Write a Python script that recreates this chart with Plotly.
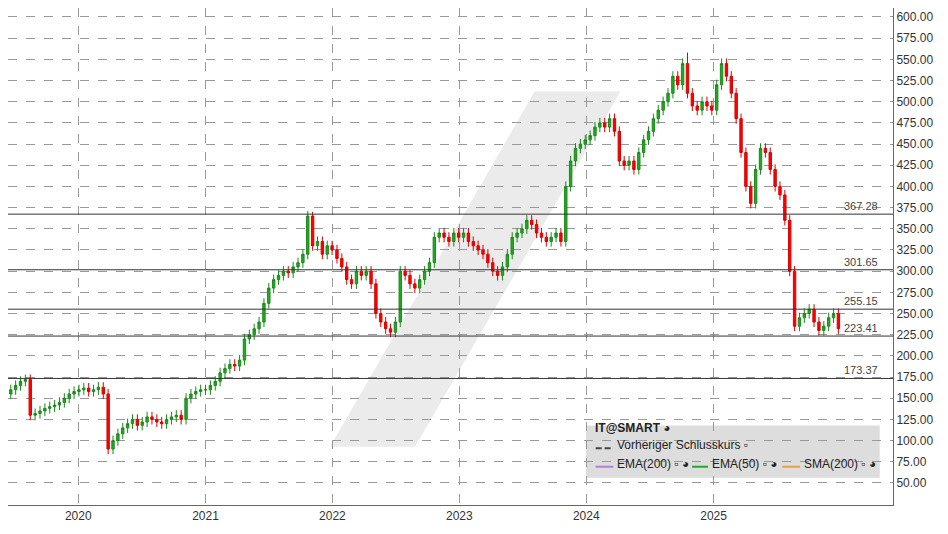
import plotly.graph_objects as go
import pandas as pd

close_2019 = [150,155,160,165,170,172,130,132,135,138,140,142,145,150,155,158]
close_2020 = [160,162,158,160,163,155,90,100,108,115,120,125,118,122,128,125,122,120,125,128,130,125,150,155,158,160]
close_2021 = [160,165,170,180,185,190,188,195,220,225,232,240,262,280,290,295,300,298,305,310,320,365,330,335,320,330]
close_2022 = [325,315,305,290,285,300,295,300,285,250,240,232,228,240,300,295,285,280,290,300,310,340,345,340,335,345]
close_2023 = [340,345,335,330,325,320,310,300,295,305,320,340,345,350,360,355,345,340,335,340,345,335,400,430,445,450]
close_2024 = [455,460,470,475,470,480,465,430,425,430,420,440,455,465,480,490,500,510,530,520,545,510,495,490,500,495]
close_2025 = [490,520,545,530,510,480,440,400,380,420,445,440,420,400,390,360,300,235,245,250,255,240,230,235,245,250,232]
spike_high = {"2021-11-05": 370, "2025-02-14": 582, "2024-10-18": 558}
spike_low = {"2020-03-20": 75, "2022-06-24": 220}
level_values = [367.28, 301.65, 255.15, 223.41, 173.37]
year_ticks = ["2020-01-01","2021-01-01","2022-01-01","2023-01-01","2024-01-01","2025-01-01"]
year_labels = ["2020","2021","2022","2023","2024","2025"]

close = close_2019+close_2020+close_2021+close_2022+close_2023+close_2024+close_2025
dates = pd.date_range("2019-05-24", periods=len(close), freq="14D")
opn = [148] + close[:-1]
high, low = [], []
for d, o, c in zip(dates, opn, close):
    k = d.strftime("%Y-%m-%d")
    high.append(spike_high.get(k, max(o, c) + 6))
    low.append(spike_low.get(k, min(o, c) - 6))

fig = go.Figure(go.Candlestick(
    x=dates, open=opn, high=high, low=low, close=close,
    increasing=dict(line=dict(color="#1a8a1a", width=1), fillcolor="#22aa22"),
    decreasing=dict(line=dict(color="#dd0000", width=1), fillcolor="#ff0000"),
    whiskerwidth=0, showlegend=False))

shapes = [dict(type="path", xref="paper", yref="paper",
               path="M 0.364 0.117 L 0.595 0.832 L 0.692 0.832 L 0.460 0.117 Z",
               fillcolor="#ebebeb", line=dict(width=0), layer="below"),
          dict(type="rect", xref="paper", yref="paper", x0=0.653, x1=0.985, y0=0.055, y1=0.16,
               fillcolor="#dddddd", line=dict(width=0), layer="below")]
annotations = []
for v in level_values:
    shapes.append(dict(type="line", xref="paper", x0=0, x1=1, y0=v, y1=v,
                       line=dict(color="#333", width=1)))
    annotations.append(dict(xref="paper", x=0.985, y=v, text=f"{v:.2f}", showarrow=False,
                            xanchor="right", yanchor="bottom", font=dict(size=11, color="#444")))
row1, row2, row3 = 0.137, 0.102, 0.065
shapes.append(dict(type="line", xref="paper", yref="paper", x0=0.664, x1=0.684, y0=row2+0.012, y1=row2+0.012,
                   line=dict(color="#444", width=2, dash="6px,3px")))
for x0, x1, col in [(0.664, 0.684, "#b07fe0"), (0.773, 0.791, "#22aa22"), (0.875, 0.895, "#e8a040")]:
    shapes.append(dict(type="line", xref="paper", yref="paper", x0=x0, x1=x1, y0=row3+0.012, y1=row3+0.012,
                       line=dict(color=col, width=2)))
annotations += [
    dict(xref="paper", yref="paper", x=0.661, y=row1, text="<b>IT@SMART</b> ◕", showarrow=False,
         xanchor="left", font=dict(size=12, color="#222")),
    dict(xref="paper", yref="paper", x=0.686, y=row2, text="Vorheriger Schlusskurs ▫", showarrow=False,
         xanchor="left", font=dict(size=12, color="#222")),
    dict(xref="paper", yref="paper", x=0.686, y=row3, text="EMA(200) ▫ ◕", showarrow=False,
         xanchor="left", font=dict(size=12, color="#222")),
    dict(xref="paper", yref="paper", x=0.793, y=row3, text="EMA(50) ▫ ◕", showarrow=False,
         xanchor="left", font=dict(size=12, color="#222")),
    dict(xref="paper", yref="paper", x=0.897, y=row3, text="SMA(200) ▫ ◕", showarrow=False,
         xanchor="left", font=dict(size=12, color="#222")),
]

fig.update_layout(
    width=940, height=526, margin=dict(l=0, r=55, t=0, b=29, autoexpand=False),
    paper_bgcolor="white", plot_bgcolor="white",
    font=dict(family="Liberation Sans, Arial", size=12, color="#333"),
    shapes=shapes, annotations=annotations,
    xaxis=dict(range=["2019-06-13", "2026-06-01"], rangeslider=dict(visible=False),
               tickvals=year_ticks, ticktext=year_labels, showgrid=True, gridcolor="#999",
               griddash="dash", showline=True, linecolor="#666", mirror=True, ticks=""),
    yaxis=dict(side="right", range=[24, 610.6], tickformat=".2f",
               tickvals=list(range(50, 601, 25)),
               showgrid=True, gridcolor="#999", griddash="dash", showline=True, linecolor="#666",
               mirror=True, ticks="", zeroline=False),
)
fig.write_html("out.html")
